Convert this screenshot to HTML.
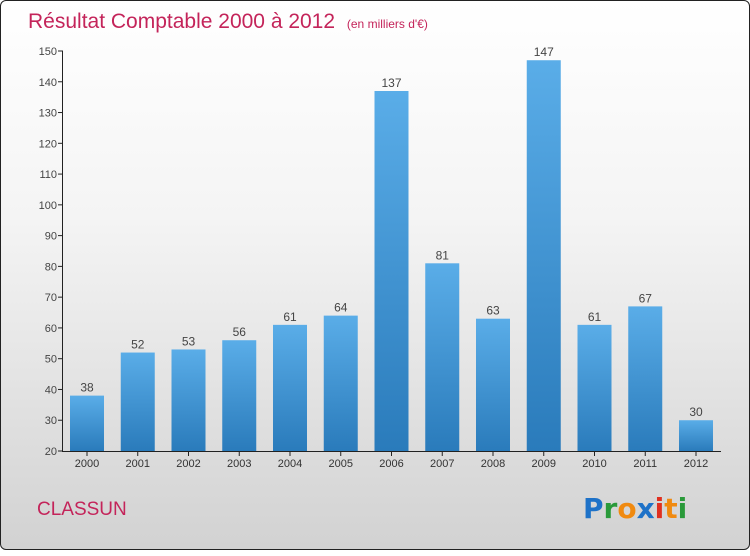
<!DOCTYPE html>
<html><head><meta charset="utf-8"><style>
body{margin:0;width:750px;height:550px;overflow:hidden}
#c{position:absolute;left:0;top:0;width:748px;height:548px;border:1px solid #222;border-radius:6px;background:linear-gradient(#ffffff 0%,#f4f4f4 40%,#d2d2d2 100%);font-family:"Liberation Sans",sans-serif}
</style></head><body>
<div id="c">
<svg width="750" height="550">
<defs><linearGradient id="bg" x1="0" y1="0" x2="0" y2="1"><stop offset="0" stop-color="#5aade8"/><stop offset="1" stop-color="#2a7bbb"/></linearGradient></defs>
<text x="27" y="27" font-size="21" fill="#c4245a">Résultat Comptable 2000 à 2012 <tspan font-size="12" dx="6">(en milliers d'€)</tspan></text>
<g id="plot"></g>
<text x="36" y="514" font-size="19" fill="#c4245a">CLASSUN</text>
<text x="582" y="517" font-size="28" font-family="DejaVu Sans" font-weight="bold"><tspan fill="#1e72c8">P</tspan><tspan fill="#2a9a3a">r</tspan><tspan fill="#f08a10">o</tspan><tspan fill="#1e72c8">x</tspan><tspan fill="#e03020">i</tspan><tspan fill="#f08a10">t</tspan><tspan fill="#2a9a3a">i</tspan></text>
</svg></div>
<script>
const categories=["2000","2001","2002","2003","2004","2005","2006","2007","2008","2009","2010","2011","2012"];
const values=[38,52,53,56,61,64,137,81,63,147,61,67,30];
const yTicks=[20,30,40,50,60,70,80,90,100,110,120,130,140,150];
const NS="http://www.w3.org/2000/svg";
const g=document.getElementById('plot');
const y=v=>450-(v-20)*400/130;
const x=i=>86+i*50.75;
function mk(t,a,txt){const e=document.createElementNS(NS,t);for(const k in a)e.setAttribute(k,a[k]);if(txt!==undefined)e.textContent=txt;g.appendChild(e);return e;}
yTicks.forEach(v=>{
 const l=mk('line',{x1:57,x2:62,y1:y(v),y2:y(v),stroke:'#222'});
 
 
 const t=mk('text',{x:56,y:y(v)+4,'font-size':11,fill:'#444','text-anchor':'end'},v);
 
 
});
const ax=mk('line',{x1:61.5,x2:61.5,y1:50,y2:451,stroke:'#222'});


const xa=mk('line',{x1:61,x2:720,y1:450.5,y2:450.5,stroke:'#222'});


categories.forEach((c,i)=>{
 const v=values[i];
 const b=mk('rect',{x:x(i)-17,y:y(v),width:34,height:450-y(v),fill:'url(#bg)'});
 
 
 const tk=mk('line',{x1:x(i),x2:x(i),y1:450,y2:455,stroke:'#222'});
 
 
 const lb=mk('text',{x:x(i),y:466,'font-size':11,fill:'#333','text-anchor':'middle'},c);
 
 
 const vl=mk('text',{x:x(i),y:y(v)-4,'font-size':12,fill:'#444','text-anchor':'middle'},v);
 
 
});
</script>
</body></html>
